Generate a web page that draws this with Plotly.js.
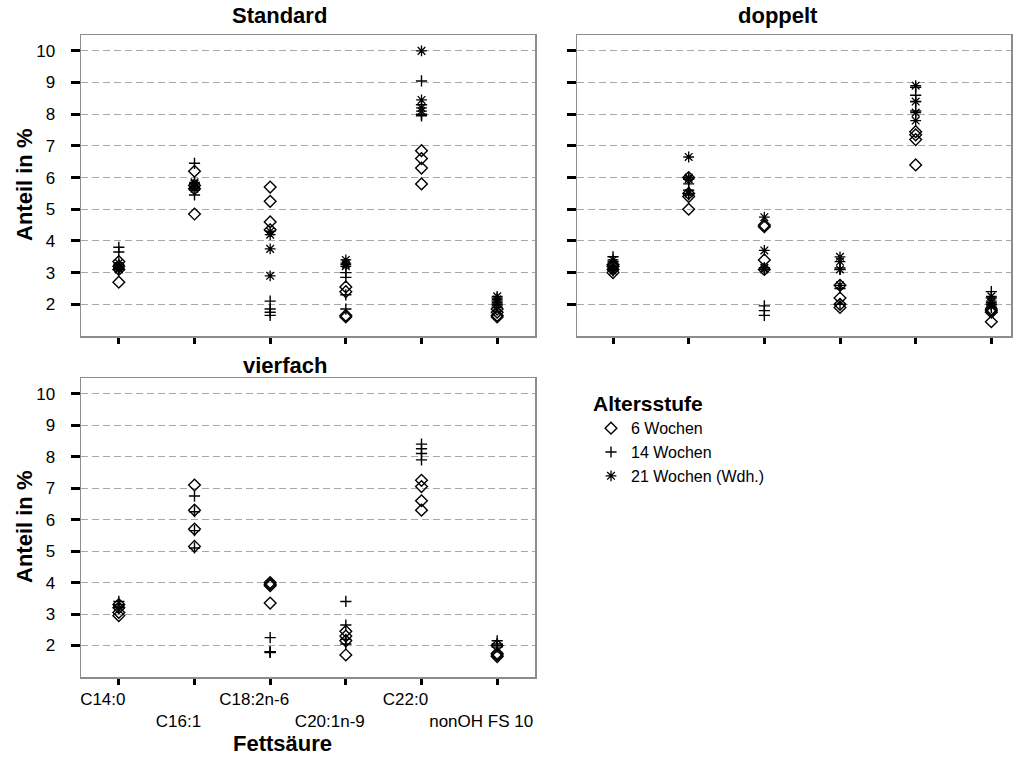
<!DOCTYPE html>
<html>
<head>
<meta charset="utf-8">
<script src="https://cdn.plot.ly/plotly-3.0.1.min.js"></script>
<style>html,body{margin:0;padding:0;background:#fff}#chart{width:1019px;height:757px}</style>
</head>
<body>
<div id="chart"></div>
<script>
// Categories (Fettsäure) and tick labels
var categories = ['C14:0', 'C16:1', 'C18:2n-6', 'C20:1n-9', 'C22:0', 'nonOH FS 10'];
var yTickVals = [2, 3, 4, 5, 6, 7, 8, 9, 10];
var seriesNames = ['6 Wochen', '14 Wochen', '21 Wochen (Wdh.)'];
var panelTitles = ['Standard', 'doppelt', 'vierfach'];

// Standard: values per category (replicates)
var std_w6  = [[2.7, 3.35, 3.2, 3.1], [6.2, 4.85, 5.75, 5.65], [5.7, 5.25, 4.6, 4.35], [2.55, 2.4, 1.65, 1.6], [6.85, 6.6, 6.3, 5.8], [1.85, 1.75, 1.65, 1.6]];
var std_w14 = [[3.8, 3.65, 3.25, 3.1], [6.45, 5.45, 5.8, 5.6], [2.1, 1.85, 1.75, 1.65], [3.0, 2.85, 2.3, 1.85], [9.05, 8.3, 8.0, 7.95], [2.2, 2.0, 1.95, 2.1]];
var std_w21 = [[3.1, 3.2, 3.15, 3.3], [5.7, 5.8, 5.85, 5.65], [4.3, 4.2, 3.75, 2.9], [3.4, 3.3, 3.2, 3.25], [10.0, 8.45, 8.2, 8.1], [2.25, 2.15, 2.05, 1.9]];

// doppelt
var dop_w6  = [[3.0, 3.1, 3.2, 3.25], [5.0, 5.4, 5.5, 6.0], [4.5, 4.45, 3.4, 3.1], [2.6, 2.2, 2.0, 1.9], [7.45, 7.2, 6.4, 7.35], [1.45, 1.8, 1.85, 1.75]];
var dop_w14 = [[3.5, 3.35, 3.2, 3.1], [5.95, 5.8, 5.45, 5.6], [1.95, 1.8, 1.65, 3.15], [3.15, 3.1, 2.5, 2.0], [8.85, 8.6, 8.4, 8.1], [2.4, 2.2, 2.0, 1.9]];
var dop_w21 = [[3.4, 3.3, 3.15, 3.05], [6.65, 6.0, 5.95, 5.5], [4.75, 3.7, 3.15, 3.1], [3.5, 3.35, 3.1, 2.6], [8.9, 8.4, 8.05, 7.8], [2.25, 2.1, 2.05, 1.95]];

// vierfach
var vie_w6  = [[2.95, 3.05, 3.2, 3.3], [7.1, 6.3, 5.7, 5.15], [4.0, 3.95, 3.9, 3.35], [2.45, 2.3, 2.15, 1.7], [7.25, 7.05, 6.6, 6.3], [1.75, 1.7, 1.65, 2.0]];
var vie_w14 = [[3.4, 3.3, 3.2, 3.25], [6.75, 6.25, 5.65, 5.1], [2.25, 1.8, 1.8, 1.78], [3.4, 2.65, 2.2, 2.05], [8.4, 8.25, 8.1, 7.9], [2.15, 2.05, 2.0, 1.95]];

var FONT = 'Liberation Sans, Arial, sans-serif';
var W = 1019, H = 757;

var markerStyles = [
  {symbol: 'diamond-open', size: 9, color: '#000', line: {width: 1.4, color: '#000'}},
  {symbol: 'cross-thin-open', size: 8, color: '#000', line: {width: 1.4, color: '#000'}},
  {symbol: 'asterisk-open', size: 9, color: '#000', line: {width: 1.3, color: '#000'}}
];

function flatten(groups) {
  var xs = [], ys = [];
  groups.forEach(function (vals, i) {
    vals.forEach(function (v) { xs.push(i); ys.push(v); });
  });
  return {x: xs, y: ys};
}

var panels = [
  {series: [std_w6, std_w14, std_w21], xa: 'x', ya: 'y'},
  {series: [dop_w6, dop_w14, dop_w21], xa: 'x2', ya: 'y2'},
  {series: [vie_w6, vie_w14], xa: 'x3', ya: 'y3'}
];

var traces = [];
panels.forEach(function (p, pi) {
  p.series.forEach(function (s, si) {
    var d = flatten(s);
    traces.push({
      type: 'scatter', mode: 'markers',
      x: d.x, y: d.y, xaxis: p.xa, yaxis: p.ya,
      name: seriesNames[si], legendgroup: 'g' + si,
      showlegend: pi === 0,
      marker: markerStyles[si],
      hoverinfo: 'x+y'
    });
  });
});

function px2x(px) { return px / W; }
function py2y(py) { return 1 - py / H; }

function xaxisCfg(domain, range, showLabels) {
  var ticktext = categories.map(function (c, i) { return i % 2 === 1 ? '<br>' + c : c; });
  return {
    domain: domain, range: range, tickmode: 'array',
    tickvals: categories.map(function (c, i) { return i; }),
    ticktext: ticktext, showticklabels: showLabels, tickangle: 0,
    ticks: 'outside', ticklen: 6, tickwidth: 3, tickcolor: '#000',
    showline: true, linecolor: '#8c8c8c', linewidth: 1.5, mirror: true,
    showgrid: false, zeroline: false, fixedrange: true,
    tickfont: {family: FONT, size: 17, color: '#000'},
    ticklabelshift: -16
  };
}
function yaxisCfg(domain, showLabels) {
  return {
    domain: domain, range: [1, 10.5], tickmode: 'array', tickvals: yTickVals,
    showticklabels: showLabels,
    ticks: 'outside', ticklen: 9, tickwidth: 3, tickcolor: '#000',
    showline: true, linecolor: '#8c8c8c', linewidth: 1.5, mirror: true,
    showgrid: true, gridcolor: '#a8a8a8', gridwidth: 1, griddash: '7px,4px',
    zeroline: false, fixedrange: true,
    tickfont: {family: FONT, size: 17, color: '#000'},
    ticklabelstandoff: 12
  };
}

var topDom = [py2y(336), py2y(35)];
var botDom = [py2y(677), py2y(378)];
var leftDom = [px2x(81), px2x(535)];
var rightDom = [px2x(577), px2x(1011)];

function ann(text, xp, yp, extra) {
  return Object.assign({
    text: '<b>' + text + '</b>', x: px2x(xp), y: py2y(yp), xref: 'paper', yref: 'paper',
    xanchor: 'center', yanchor: 'middle', showarrow: false,
    font: {family: FONT, size: 22, color: '#000'}
  }, extra || {});
}

var layout = {
  width: W, height: H,
  margin: {l: 0, r: 0, t: 0, b: 0},
  paper_bgcolor: '#fff', plot_bgcolor: '#fff',
  font: {family: FONT, color: '#000'},
  xaxis: xaxisCfg(leftDom, [-0.5, 5.5], false),
  yaxis: yaxisCfg(topDom, true),
  xaxis2: Object.assign(xaxisCfg(rightDom, [-0.476, 5.26], false), {anchor: 'y2'}),
  yaxis2: Object.assign(yaxisCfg(topDom, false), {anchor: 'x2'}),
  xaxis3: Object.assign(xaxisCfg(leftDom, [-0.5, 5.5], true), {anchor: 'y3'}),
  yaxis3: Object.assign(yaxisCfg(botDom, true), {anchor: 'x3'}),
  showlegend: true,
  legend: {
    x: px2x(591), y: py2y(384), xanchor: 'left', yanchor: 'top',
    title: {text: '<b>Altersstufe</b>', font: {family: FONT, size: 21, color: '#000'}},
    font: {family: FONT, size: 16, color: '#000'},
    bgcolor: 'rgba(0,0,0,0)', tracegroupgap: 0, itemwidth: 30
  },
  annotations: [
    ann(panelTitles[0], 279, 15),
    ann(panelTitles[1], 778, 15),
    ann(panelTitles[2], 285, 365),
    ann('Anteil in %', 24, 185, {textangle: -90}),
    ann('Anteil in %', 24, 527, {textangle: -90}),
    ann('Fettsäure', 282, 743)
  ]
};

Plotly.newPlot('chart', traces, layout, {staticPlot: true, displayModeBar: false});
</script>
</body>
</html>
